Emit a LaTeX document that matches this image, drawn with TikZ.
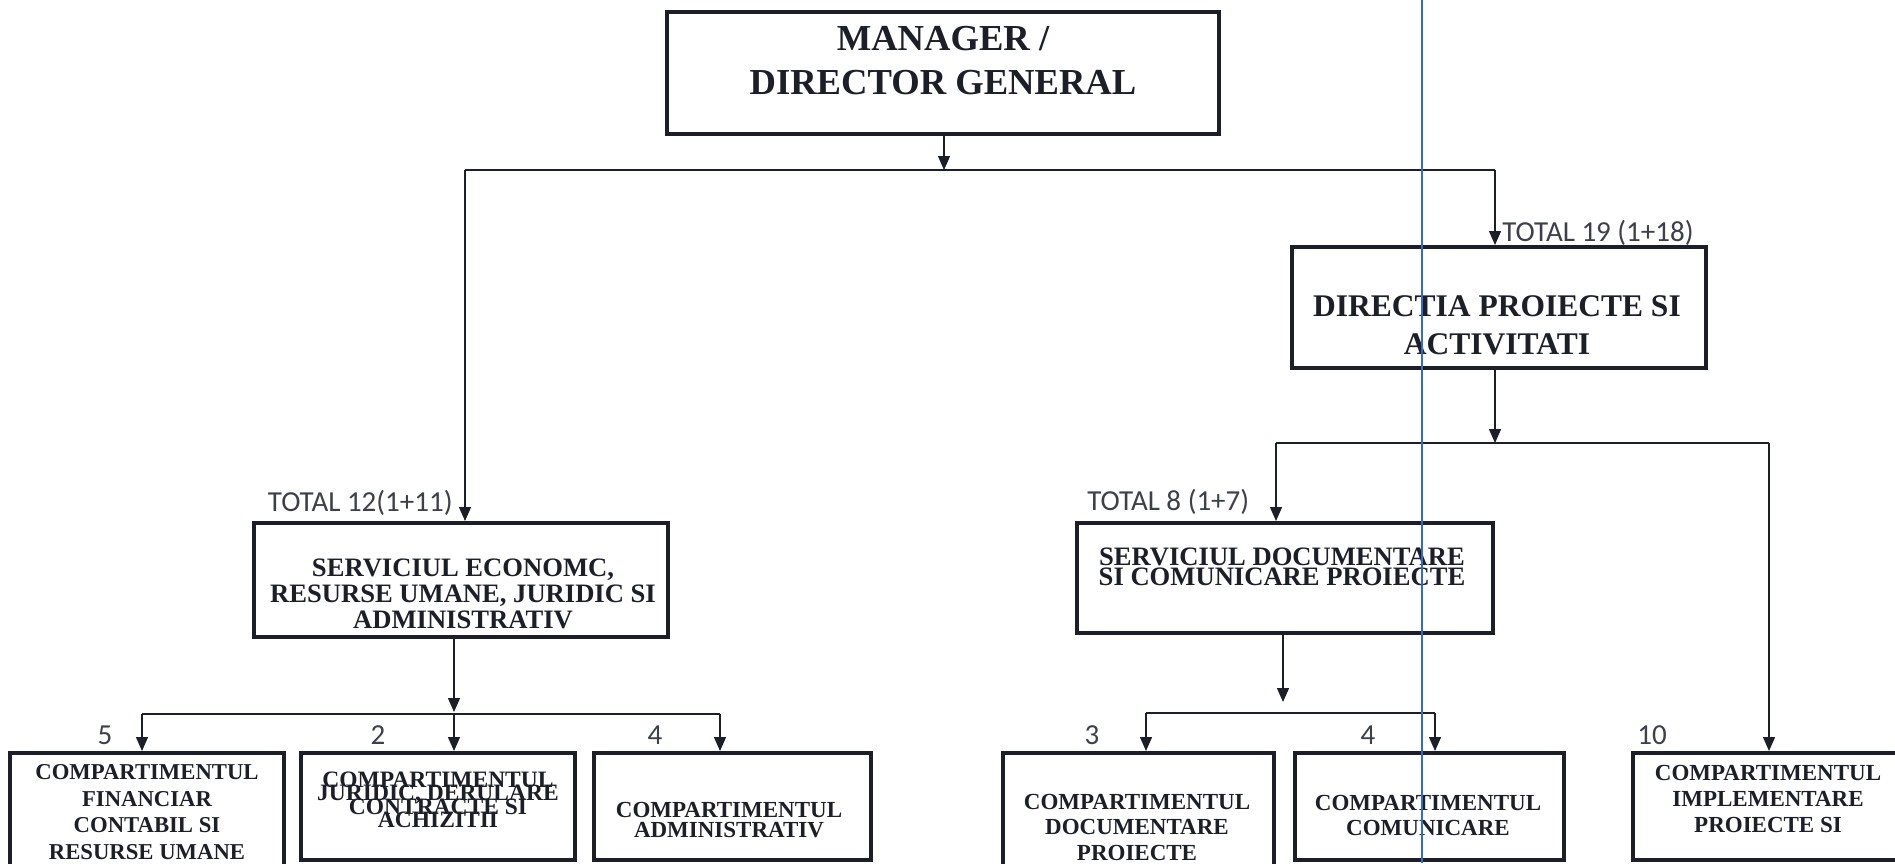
\documentclass[tikz,border=0pt]{standalone}
\usepackage{fontspec}
\setmainfont{Liberation Serif}
\newfontfamily\calfont{Carlito}
\usetikzlibrary{arrows.meta,fit}
\definecolor{ink}{RGB}{28,30,40}
\definecolor{scanblue}{RGB}{50,105,210}
\newcommand{\boxfont}[2]{\bfseries\fontsize{#1}{#2}\selectfont\lineskiplimit=-50pt\relax}
\begin{document}
\begin{tikzpicture}[x=0.5pt,y=-0.5pt,
  boxst/.style={draw=ink, line width=2pt, inner sep=0pt},
  ln/.style={draw=ink, line width=0.65pt},
  arr/.style={ln, -{Triangle[width=6pt,length=7pt]}},
  tb/.style={align=center, text=ink, inner sep=0pt},
  lab/.style={text=ink!85, inner sep=0pt, font=\calfont\fontsize{14.5}{17}\selectfont}]
\useasboundingbox[fill=white] (0,0) rectangle (1895,863);

% boxes
\node[boxst, fit={(667,12) (1219,134)}] (mgr) {};
\node[tb, font={\boxfont{18.3}{22}}] (mgrT) at (943,61) {MANAGER /\\DIRECTOR GENERAL};

\node[boxst, fit={(1292,247) (1706,368)}] (dir) {};
\node[tb, font={\boxfont{15.75}{19}}] (dirT) at (1497,325) {DIRECTIA PROIECTE SI\\ACTIVITATI};

\node[boxst, fit={(254,523) (668,637)}] (econ) {};
\node[tb, font={\boxfont{13.3}{13}}] (econT) at (463,594) {SERVICIUL ECONOMC,\\RESURSE UMANE, JURIDIC SI\\ADMINISTRATIV};

\node[boxst, fit={(1077,523) (1493,633)}] (serv) {};
\node[tb, font={\boxfont{13.3}{10}}] (servT) at (1282,567) {SERVICIUL DOCUMENTARE\\SI COMUNICARE PROIECTE};

\node[boxst, fit={(10,753) (284,878)}] (fin) {};
\node[tb, font={\boxfont{11.35}{13.25}}] (finT) at (147,812) {COMPARTIMENTUL\\FINANCIAR\\CONTABIL SI\\RESURSE UMANE};

\node[boxst, fit={(301,753) (575,860)}] (jur) {};
\node[tb, font={\boxfont{11.75}{6.75}}] (jurT) at (438,800) {COMPARTIMENTUL\\JURIDIC, DERULARE\\CONTRACTE SI\\ACHIZITII};

\node[boxst, fit={(594,753) (871,860)}] (adm) {};
\node[tb, font={\boxfont{11.5}{9.75}}] (admT) at (729,820) {COMPARTIMENTUL\\ADMINISTRATIV};

\node[boxst, fit={(1003,753) (1274,878)}] (docu) {};
\node[tb, font={\boxfont{11.5}{12.75}}] (docuT) at (1137,827) {COMPARTIMENTUL\\DOCUMENTARE\\PROIECTE};

\node[boxst, fit={(1295,753) (1564,860)}] (comu) {};
\node[tb, font={\boxfont{11.5}{12.5}}] (comuT) at (1428,815) {COMPARTIMENTUL\\COMUNICARE};

\node[boxst, fit={(1633,753) (1903,860)}] (impl) {};
\node[tb, font={\boxfont{11.5}{13}}] (implT) at (1768,799) {COMPARTIMENTUL\\IMPLEMENTARE\\PROIECTE SI};

% labels
\node[lab, anchor=east] (t12) at (453,503) {TOTAL 12(1+11)};
\node[lab, anchor=west] (t19) at (1502,233) {TOTAL 19 (1+18)};
\node[lab, anchor=west] (t8) at (1087,502) {TOTAL 8 (1+7)};
\node[lab] (n5) at (105,735) {5};
\node[lab] (n2) at (378,735) {2};
\node[lab] (n4a) at (655,735) {4};
\node[lab] (n3) at (1092,735) {3};
\node[lab] (n4b) at (1368,735) {4};
\node[lab] (n10) at (1652,735) {10};

% top level
\coordinate (j0) at (944,170);
\coordinate (jL) at (465,170);
\coordinate (jR) at (1495,170);
\draw[arr] (mgr.south -| j0) -- (j0);
\draw[ln] (jL) -- (jR);
\draw[arr] (jL) -- (jL |- econ.north);
\draw[arr] (jR) -- (jR |- dir.north);

% directia
\coordinate (k0) at (1495,443);
\coordinate (kL) at (1276,443);
\coordinate (kR) at (1769,443);
\draw[arr] (dir.south -| k0) -- (k0);
\draw[ln] (kL) -- (kR);
\draw[arr] (kL) -- (kL |- serv.north);
\draw[arr] (kR) -- (kR |- impl.north);

% economic
\coordinate (m0) at (454,714);
\coordinate (mL) at (142,714);
\coordinate (mR) at (720,714);
\draw[arr] (econ.south -| m0) -- ([yshift=1pt]m0);
\draw[arr] (m0) -- (m0 |- jur.north);
\draw[ln] (mL) -- (mR);
\draw[arr] (mL) -- (mL |- fin.north);
\draw[arr] (mR) -- (mR |- adm.north);

% documentare
\coordinate (n0) at (1283,702);
\coordinate (nL) at (1146,713);
\coordinate (nR) at (1435,713);
\draw[arr] (serv.south -| n0) -- (n0);
\draw[ln] (nL) -- (nR);
\draw[arr] (nL) -- (nL |- docu.north);
\draw[arr] (nR) -- (nR |- comu.north);

% scan artefact line
\coordinate (b0) at (1422,0);
\coordinate (b1) at (1422,863);
\draw[scanblue, line width=0.6pt] (b0) -- (b1);
\end{tikzpicture}
\end{document}
